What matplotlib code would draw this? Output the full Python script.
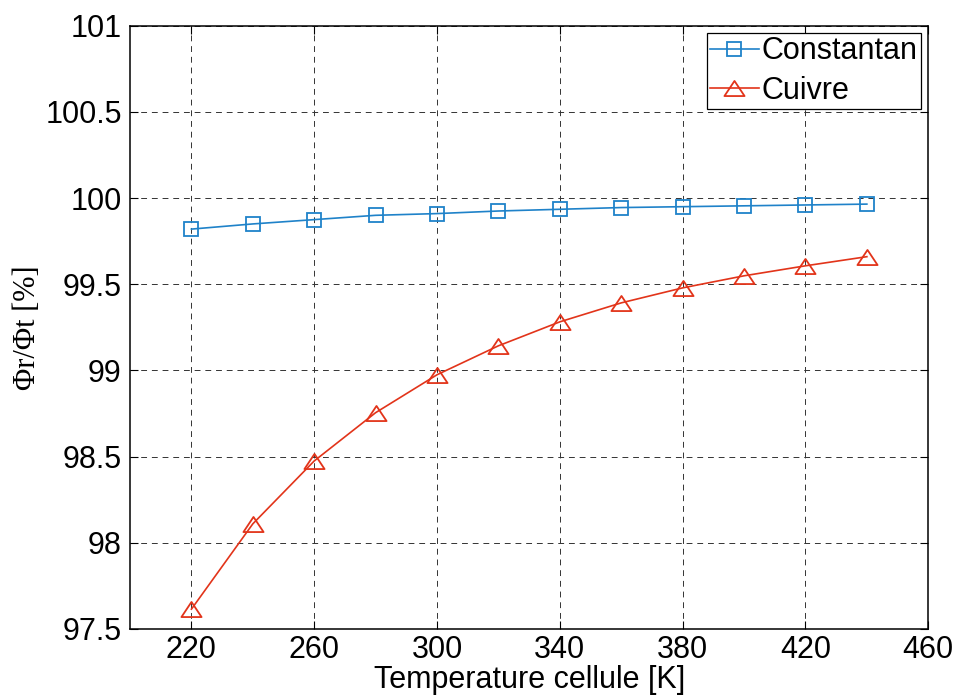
import matplotlib.pyplot as plt
import numpy as np
from matplotlib.path import Path
from matplotlib.ticker import FuncFormatter

plt.rcParams['font.family'] = ['Liberation Sans', 'DejaVu Sans']

# data
temperature = [220, 240, 260, 280, 300, 320, 340, 360, 380, 400, 420, 440]
constantan = [99.82, 99.85, 99.875, 99.90, 99.91, 99.925, 99.935, 99.945,
              99.95, 99.955, 99.96, 99.965]
cuivre = [97.615, 98.11, 98.475, 98.755, 98.975, 99.143, 99.282, 99.392,
          99.479, 99.549, 99.607, 99.66]

xticks = [220, 260, 300, 340, 380, 420, 460]
yticks = np.arange(97.5, 101.01, 0.5)

blue = '#1f82c9'
red = '#e2341a'

# MATLAB-like wide triangle
tri = Path([(-1, -0.75), (1, -0.75), (0, 0.75), (-1, -0.75)],
           [Path.MOVETO, Path.LINETO, Path.LINETO, Path.CLOSEPOLY])

fig = plt.figure(figsize=(9.56, 6.95), dpi=100)
ax = fig.add_axes([0.136, 0.095, 0.835, 0.868])

ax.plot(temperature, constantan, '-', color=blue, lw=1.2, marker='s',
        ms=9.5, mfc='none', mec=blue, mew=1.3, label='Constantan')
ax.plot(temperature, cuivre, '-', color=red, lw=1.2, marker=tri,
        ms=14.5, mfc='none', mec=red, mew=1.3, label='Cuivre')

ax.set_xlim(200, 460)
ax.set_ylim(97.5, 101)
ax.set_xticks(xticks)
ax.set_yticks(yticks)
ax.yaxis.set_major_formatter(FuncFormatter(lambda v, p: '%g' % v))
ax.tick_params(direction='in', length=6, width=0.8, labelsize=22,
               top=True, right=True)
ax.tick_params(axis='x', pad=4)
ax.tick_params(axis='y', pad=6)
ax.grid(True, color='#333333', linestyle=(0, (6, 5)), linewidth=0.7)
for s in ax.spines.values():
    s.set_linewidth(1.1)

ax.set_xlabel('Temperature cellule [K]', fontsize=22, labelpad=0)
ax.set_ylabel('Φr/Φt [%]', fontsize=22, family=['Liberation Serif', 'DejaVu Serif'],
              labelpad=2)

leg = ax.legend(loc='upper right', fontsize=22, frameon=True, fancybox=False,
                edgecolor='black', framealpha=1, borderaxespad=0.25,
                borderpad=0.1, labelspacing=0.3, handlelength=1.6,
                handletextpad=0.1)
leg.get_frame().set_linewidth(0.9)

fig.savefig('out.png', dpi=100)
